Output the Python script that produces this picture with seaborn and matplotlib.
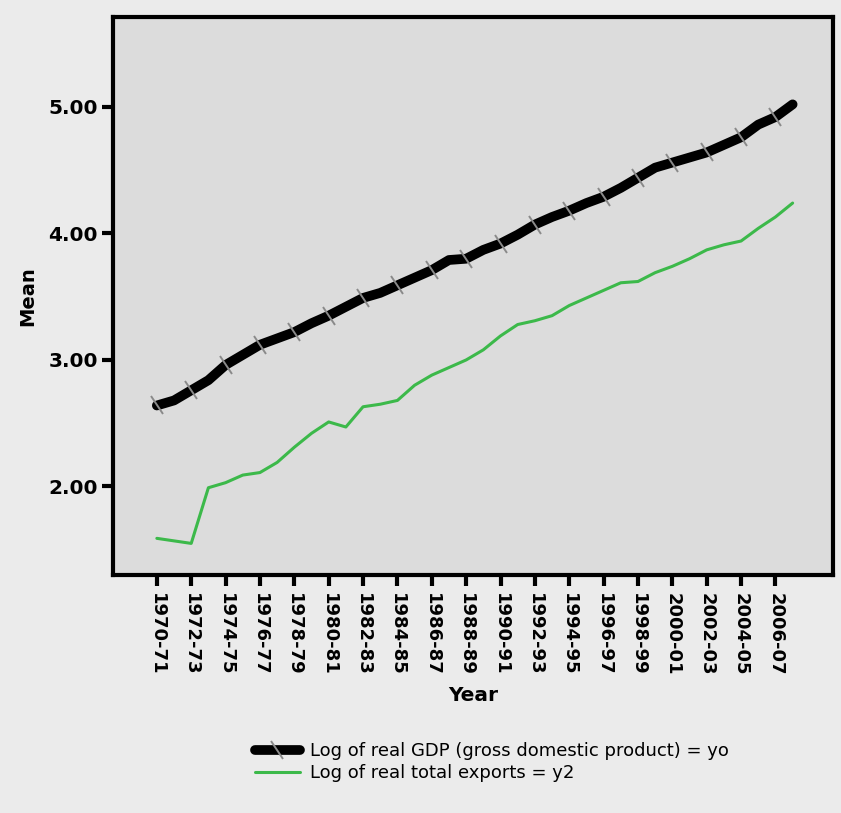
import numpy as np
import pandas as pd
import seaborn as sns
import matplotlib
matplotlib.use("Agg")
import matplotlib.pyplot as plt
from matplotlib.markers import MarkerStyle
from matplotlib.transforms import Affine2D

# Fiscal years
years = [f"{y}-{str(y + 1)[-2:]}" for y in range(1970, 2008)]

# Mean log of real GDP (yo)
log_gdp = [2.64, 2.68, 2.76, 2.84, 2.96, 3.04, 3.12, 3.17, 3.22, 3.29,
           3.35, 3.42, 3.49, 3.53, 3.59, 3.65, 3.71, 3.79, 3.80, 3.87,
           3.92, 3.99, 4.07, 4.13, 4.18, 4.24, 4.29, 4.36, 4.44, 4.52,
           4.56, 4.60, 4.64, 4.70, 4.76, 4.86, 4.92, 5.02]

# Mean log of real total exports (y2)
log_exports = [1.59, 1.57, 1.55, 1.99, 2.03, 2.09, 2.11, 2.19, 2.31, 2.42,
               2.51, 2.47, 2.63, 2.65, 2.68, 2.80, 2.88, 2.94, 3.00, 3.08,
               3.19, 3.28, 3.31, 3.35, 3.43, 3.49, 3.55, 3.61, 3.62, 3.69,
               3.74, 3.80, 3.87, 3.91, 3.94, 4.04, 4.13, 4.24]

y_ticks = [2.0, 3.0, 4.0, 5.0]

df = pd.DataFrame({"idx": np.arange(len(years)), "year": years,
                   "gdp": log_gdp, "exports": log_exports})

sns.set_style("white")
plt.rcParams["font.family"] = ["DejaVu Sans"]
plt.rcParams["text.color"] = "black"
plt.rcParams["axes.labelcolor"] = "black"
plt.rcParams["xtick.color"] = "black"
plt.rcParams["ytick.color"] = "black"

fig = plt.figure(figsize=(8.41, 8.13), dpi=100, facecolor="#ebebeb")
ax = fig.add_axes([0.1344, 0.2927, 0.8561, 0.6863])
ax.set_facecolor("#dcdcdc")

slash = MarkerStyle("|", transform=Affine2D().rotate_deg(35))

sns.lineplot(data=df, x="idx", y="gdp", ax=ax, color="black", lw=7,
             marker=slash, markevery=2, ms=15, mew=1.4, mec="#8a8a8a",
             solid_capstyle="round",
             label="Log of real GDP (gross domestic product) = yo")
sns.lineplot(data=df, x="idx", y="exports", ax=ax, color="#3cb94a", lw=2.2,
             label="Log of real total exports = y2")

ax.set_xlim(-2.55, len(years) - 1 + 2.35)
ax.set_ylim(1.30, 5.71)

ax.set_yticks(y_ticks)
ax.set_yticklabels([f"{v:.2f}" for v in y_ticks], fontsize=14.5, fontweight="bold")
ax.set_xticks(df["idx"][::2])
ax.set_xticklabels(df["year"][::2], rotation=270, fontsize=13, fontweight="bold")

ax.tick_params(axis="y", pad=3)
ax.tick_params(axis="both", direction="out", length=8, width=3, color="black",
               bottom=True, left=True)
ax.tick_params(axis="x", pad=5)
for s in ax.spines.values():
    s.set_visible(True)
    s.set_color("black")
    s.set_linewidth(3)

ax.set_xlabel("Year", fontsize=14.5, fontweight="bold", labelpad=7)
ax.set_ylabel("Mean", fontsize=14, fontweight="bold", labelpad=8)

leg = ax.legend(loc="upper left", bbox_to_anchor=(0.197, -0.3), frameon=False,
                fontsize=13, handlelength=2.5, handletextpad=0.55,
                labelspacing=0.2, borderaxespad=0, borderpad=0)

fig.savefig("out.png", dpi=100, facecolor=fig.get_facecolor())
